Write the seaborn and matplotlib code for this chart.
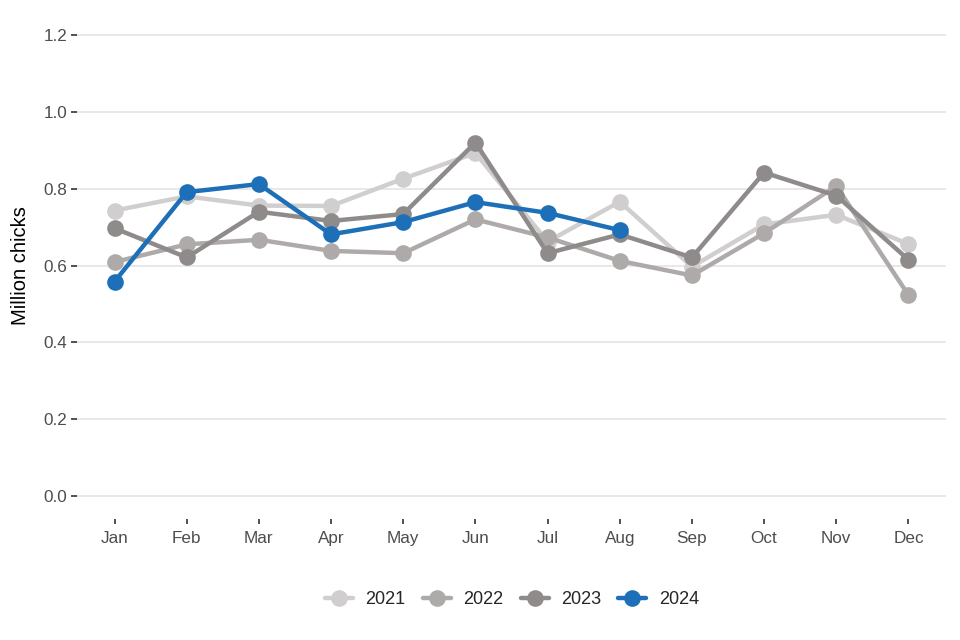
import matplotlib
matplotlib.use("Agg")
import matplotlib.pyplot as plt
import seaborn as sns
import pandas as pd

months = ["Jan", "Feb", "Mar", "Apr", "May", "Jun", "Jul", "Aug", "Sep", "Oct", "Nov", "Dec"]
years = ["2021", "2022", "2023", "2024"]
v2021 = [0.743, 0.780, 0.756, 0.755, 0.826, 0.893, 0.662, 0.766, 0.597, 0.707, 0.732, 0.656]
v2022 = [0.609, 0.655, 0.667, 0.638, 0.632, 0.720, 0.673, 0.612, 0.574, 0.684, 0.807, 0.523]
v2023 = [0.697, 0.621, 0.740, 0.716, 0.734, 0.920, 0.632, 0.681, 0.621, 0.842, 0.782, 0.615]
v2024 = [0.558, 0.791, 0.812, 0.681, 0.713, 0.765, 0.737, 0.692]
colors = ["#D0CECE", "#AEAAAA", "#8F8B8B", "#1D70B8"]

rows = []
for y, vals in zip(years, [v2021, v2022, v2023, v2024]):
    for m, v in zip(months, vals):
        rows.append({"month": m, "value": v, "year": y})
df = pd.DataFrame(rows)

sns.set_style("white")
plt.rcParams["font.family"] = ["Liberation Sans", "DejaVu Sans"]

fig = plt.figure(figsize=(9.6, 6.4), dpi=100)
L, R, T, B = 77, 946, 12, 519
ax = fig.add_axes([L / 960, 1 - B / 640, (R - L) / 960, (B - T) / 640])

sns.lineplot(data=df, x="month", y="value", hue="year", hue_order=years,
             palette=colors, marker="o", markersize=12, markeredgewidth=0,
             linewidth=3.2, sort=False, ax=ax)

ax.set_xlim(-0.52, 11.52)
ax.set_ylim(-0.06, 1.26)
ax.set_yticks([0.0, 0.2, 0.4, 0.6, 0.8, 1.0, 1.2])
ax.set_yticklabels(["0.0", "0.2", "0.4", "0.6", "0.8", "1.0", "1.2"])
ax.set_xticks(range(12))
ax.set_xticklabels(months)

for s in ax.spines.values():
    s.set_visible(False)
ax.grid(False)
ax.yaxis.grid(True, color="#E8E8E8", linewidth=1.4)
ax.set_axisbelow(True)

ax.tick_params(axis="y", length=4.5, width=1.2, color="#333333", pad=2.5,
               labelsize=12.3, labelcolor="#4D4D4D", left=True)
ax.tick_params(axis="x", length=3.5, width=1.2, color="#333333", pad=5,
               labelsize=12.3, labelcolor="#4D4D4D", bottom=True)

ax.set_xlabel("")
ax.set_ylabel("Million chicks", fontsize=14.5, color="black")
ax.yaxis.set_label_coords((30 - L) / (R - L), 0.5)

ax.get_legend().remove()
handles, labels = ax.get_legend_handles_labels()
fig.legend(handles, labels, loc="center", bbox_to_anchor=(512 / 960, 1 - 600 / 640),
           ncol=4, frameon=False, fontsize=13, handlelength=1.55,
           handletextpad=0.7, columnspacing=0.95, markerscale=1.0)

fig.savefig("out.png", dpi=100)
